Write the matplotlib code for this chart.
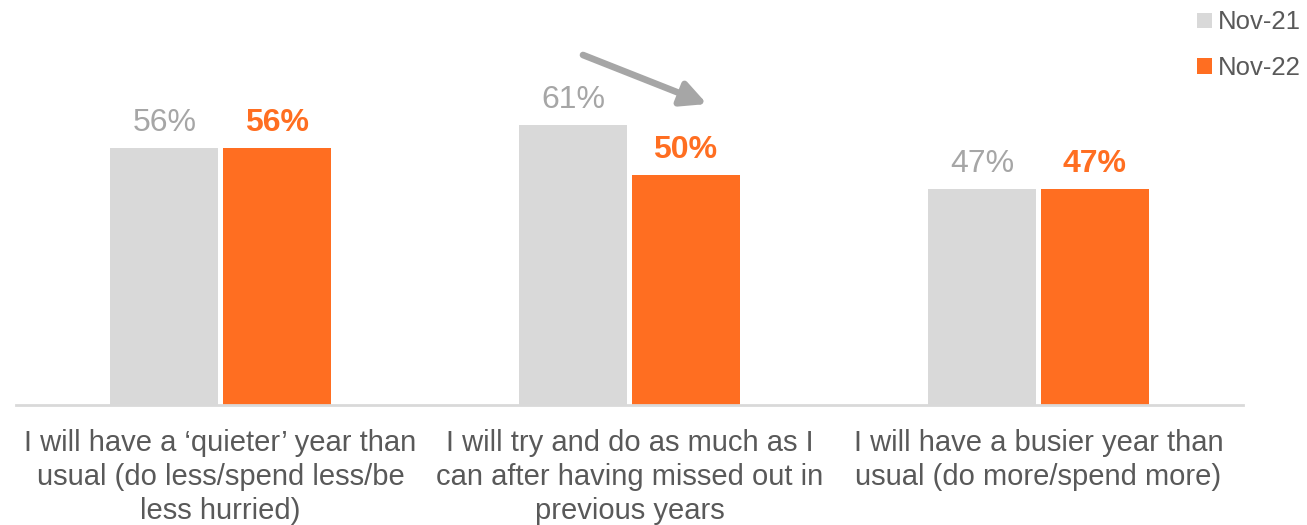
import matplotlib
matplotlib.use("Agg")
import matplotlib.pyplot as plt
from matplotlib.patches import Patch
import numpy as np

plt.rcParams['font.family'] = ['Liberation Sans', 'DejaVu Sans']

categories = [
    "I will have a \u2018quieter\u2019 year than\nusual (do less/spend less/be\nless hurried)",
    "I will try and do as much as I\ncan after having missed out in\nprevious years",
    "I will have a busier year than\nusual (do more/spend more)",
]
series_names = ["Nov-21", "Nov-22"]
nov21 = [56, 61, 47]
nov22 = [56, 50, 47]

GREY = "#D9D9D9"
ORANGE = "#FF6E21"
GREY_TXT = "#A6A6A6"
TEXT = "#595959"

W, H = 1307, 525
fig = plt.figure(figsize=(W / 100, H / 100), dpi=100)
ax = fig.add_axes([16 / W, (H - 405) / H, 1227 / W, 405 / H])

x = np.arange(len(categories))
bw = 0.264
gap = 0.005
b1 = ax.bar(x - bw / 2 - gap, nov21, bw, color=GREY)
b2 = ax.bar(x + bw / 2 + gap, nov22, bw, color=ORANGE)

for rect, v in zip(b1, nov21):
    ax.annotate(f"{v}%", (rect.get_x() + rect.get_width() / 2, v),
                xytext=(0, 12.5), textcoords="offset points",
                ha="center", va="baseline", fontsize=23, color=GREY_TXT)
for rect, v in zip(b2, nov22):
    ax.annotate(f"{v}%", (rect.get_x() + rect.get_width() / 2, v),
                xytext=(0, 12.5), textcoords="offset points",
                ha="center", va="baseline", fontsize=23, color=ORANGE,
                fontweight="bold")

ax.set_xlim(-0.5, len(categories) - 0.5)
ax.set_ylim(0, 405 / 4.59)
ax.set_xticks(x)
ax.set_xticklabels(categories, fontsize=21, color=TEXT, linespacing=1.29)
ax.tick_params(axis="x", length=0, pad=17)
ax.set_yticks([])
for s in ["top", "right", "left"]:
    ax.spines[s].set_visible(False)
ax.spines["bottom"].set_color(GREY)
ax.spines["bottom"].set_linewidth(2)

# Downward trend arrow over the middle group
ax.annotate("", xy=(707, H - 104), xycoords="figure pixels",
            xytext=(583, H - 55), textcoords="figure pixels",
            arrowprops=dict(arrowstyle="-|>,head_length=1.5,head_width=0.75",
                            color=GREY_TXT, lw=4.8, shrinkA=0, shrinkB=0))

handles = [Patch(facecolor=GREY), Patch(facecolor=ORANGE)]
fig.legend(handles, series_names, loc="upper left",
           bbox_to_anchor=(1182 / W, 1.0 + 5 / H), frameon=False, fontsize=18.5,
           labelcolor=TEXT, handlelength=0.55, handleheight=0.55,
           handletextpad=0.25, labelspacing=0.85, borderaxespad=0.2)

fig.savefig("out.png", dpi=100)
